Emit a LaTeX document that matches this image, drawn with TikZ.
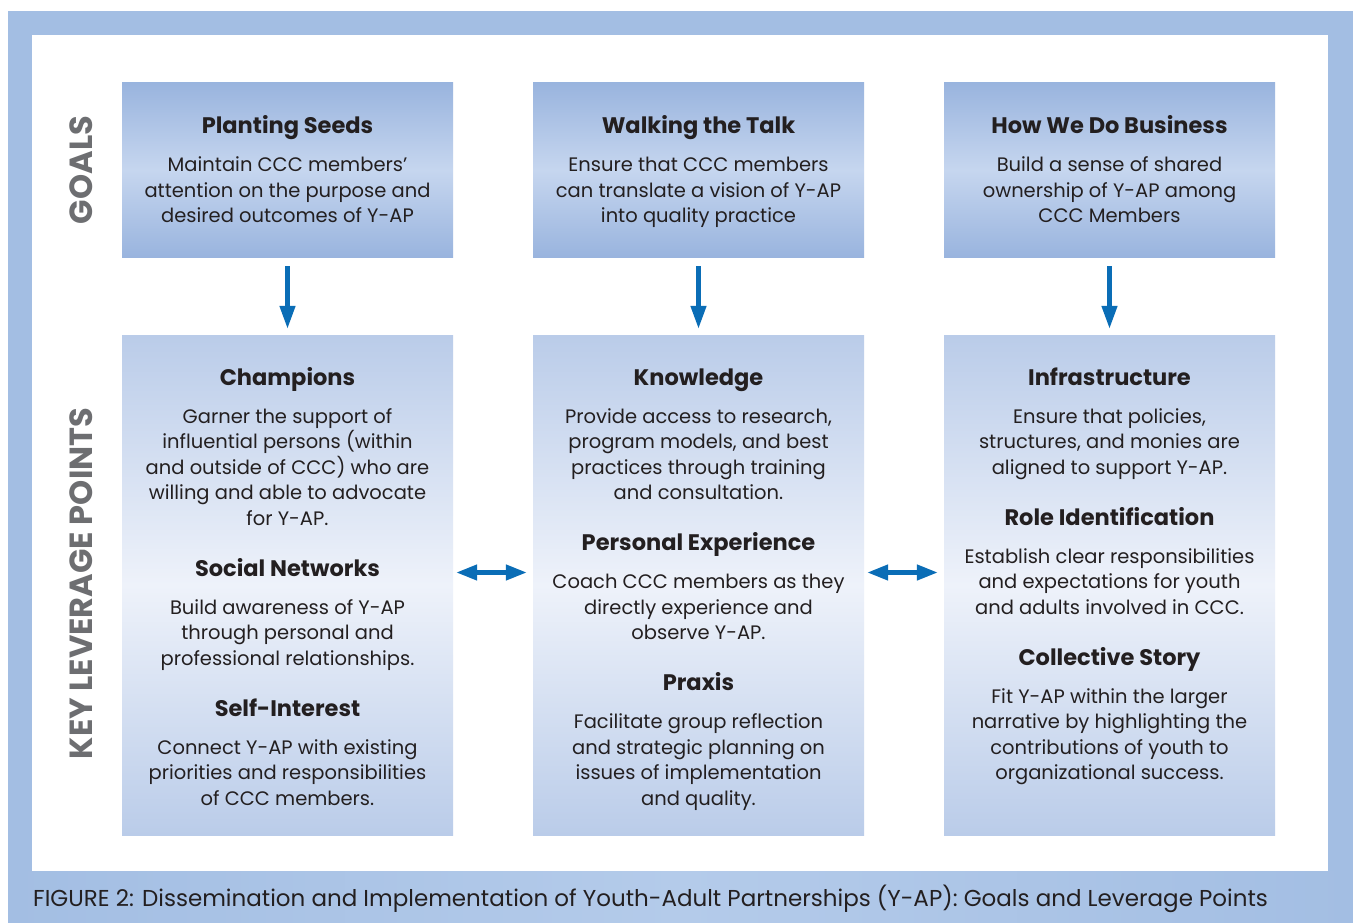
\documentclass[tikz,border=0pt]{standalone}
\usepackage{fontspec}
\setmainfont{Poppins}
\usetikzlibrary{arrows.meta}

\definecolor{frameblue}{HTML}{A3BEE3}
\definecolor{framelight}{HTML}{B4CBEA}
\definecolor{goaltop}{HTML}{99B4DE}
\definecolor{goalmid}{HTML}{C6D6EF}
\definecolor{levtop}{HTML}{BACCE9}
\definecolor{levmid}{HTML}{EEF2FA}
\definecolor{arrowblue}{HTML}{0A6DB6}
\definecolor{labelgray}{HTML}{6D6E71}
\definecolor{inkdark}{HTML}{231F20}

\newcommand\hd[1]{{\bfseries\fontsize{22.5}{25.5}\selectfont #1}}
\newcommand\firststrut{\rule{0pt}{20pt}}

\tikzset{
  goalbox/.style={rectangle, draw=none, minimum width=331pt, minimum height=174pt,
    inner sep=0pt, top color=goaltop, bottom color=goaltop, middle color=goalmid},
  levbox/.style={rectangle, draw=none, minimum width=331pt, minimum height=500pt,
    inner sep=0pt, top color=levtop, bottom color=levtop, middle color=levmid},
  boxtext/.style={anchor=north, inner sep=0pt, align=center, text=inkdark,
    font={\fontsize{19.5}{25.5}\selectfont\lineskiplimit=-50pt}},
  sidelabel/.style={rotate=90, inner sep=0pt, text=labelgray,
    font={\bfseries\fontsize{32}{34}\selectfont}},
  downarrow/.style={draw=arrowblue, line width=4.5pt,
    -{Triangle[length=23pt,width=15pt]}, shorten <=9pt, shorten >=6pt},
  bothways/.style={draw=arrowblue, line width=4.5pt,
    {Triangle[length=21pt,width=15pt]}-{Triangle[length=21pt,width=15pt]},
    shorten <=3pt, shorten >=6pt},
}

\begin{document}
\begin{tikzpicture}[x=1pt,y=-1pt]
  \useasboundingbox (0,0) rectangle (1353,923);

  % framed background and white panel
  \fill[frameblue] (8,11) rectangle (1353,923);
  \shade[left color=frameblue, right color=frameblue, middle color=framelight]
    (8,871) rectangle (1353,923);
  \fill[white] (32,35) rectangle (1328,871);

  % goal boxes
  \node[goalbox] (g1) at (287.5,170) {};
  \node[goalbox] (g2) at (698.5,170) {};
  \node[goalbox] (g3) at (1109.5,170) {};

  % leverage boxes
  \node[levbox] (l1) at (287.5,585) {};
  \node[levbox] (l2) at (698.5,585) {};
  \node[levbox] (l3) at (1109.5,585) {};

  % goal texts
  \node[boxtext] (g1t) at (287.5,113) {\firststrut\hd{Planting Seeds}\\[13pt]
    Maintain CCC members’\\ attention on the purpose and\\ desired outcomes of Y-AP};
  \node[boxtext] (g2t) at (698.5,113) {\firststrut\hd{Walking the Talk}\\[13pt]
    Ensure that CCC members\\ can translate a vision of Y-AP\\ into quality practice};
  \node[boxtext] (g3t) at (1109.5,113) {\firststrut\hd{How We Do Business}\\[13pt]
    Build a sense of shared\\ ownership of Y-AP among\\ CCC Members};

  % leverage texts
  \node[boxtext] (l1t) at (287.5,365) {\firststrut\hd{Champions}\\[12.5pt]
    Garner the support of\\ influential persons (within\\ and outside of CCC) who are\\
    willing and able to advocate\\ for Y-AP.\\[25.5pt]
    \hd{Social Networks}\\[12.5pt]
    Build awareness of Y-AP\\ through personal and\\ professional relationships.\\[25.5pt]
    \hd{Self-Interest}\\[12.5pt]
    Connect Y-AP with existing\\ priorities and responsibilities\\ of CCC members.};
  \node[boxtext] (l2t) at (698.5,365) {\firststrut\hd{Knowledge}\\[12.5pt]
    Provide access to research,\\ program models, and best\\ practices through training\\
    and consultation.\\[25.5pt]
    \hd{Personal Experience}\\[12.5pt]
    Coach CCC members as they\\ directly experience and\\ observe Y-AP.\\[25.5pt]
    \hd{Praxis}\\[12.5pt]
    Facilitate group reflection\\ and strategic planning on\\ issues of implementation\\ and quality.};
  \node[boxtext] (l3t) at (1109.5,365) {\firststrut\hd{Infrastructure}\\[12.5pt]
    Ensure that policies,\\ structures, and monies are\\ aligned to support Y-AP.\\[25.5pt]
    \hd{Role Identification}\\[12.5pt]
    Establish clear responsibilities\\ and expectations for youth\\ and adults involved in CCC.\\[25.5pt]
    \hd{Collective Story}\\[12.5pt]
    Fit Y-AP within the larger\\ narrative by highlighting the\\ contributions of youth to\\ organizational success.};

  % side labels
  \node[sidelabel] (goalslbl) at (81,170) {GOALS};
  \node[sidelabel] (levlbl) at (81,583.5) {KEY LEVERAGE POINTS};

  % connectors
  \draw[downarrow] (g1.south) -- (l1.north);
  \draw[downarrow] (g2.south) -- (l2.north);
  \draw[downarrow] (g3.south) -- (l3.north);
  \draw[bothways] ([yshift=12.5pt]l1.east) -- ([yshift=12.5pt]l2.west);
  \draw[bothways] ([yshift=12.5pt]l2.east) -- ([yshift=12.5pt]l3.west);

  % caption
  \node[anchor=base west, inner sep=0pt, text=inkdark,
    font={\fontsize{23}{26}\selectfont}] (caption) at (33,906)
    {FIGURE 2: Dissemination and Implementation of Youth-Adult Partnerships (Y-AP): Goals and Leverage Points};
\end{tikzpicture}
\end{document}
